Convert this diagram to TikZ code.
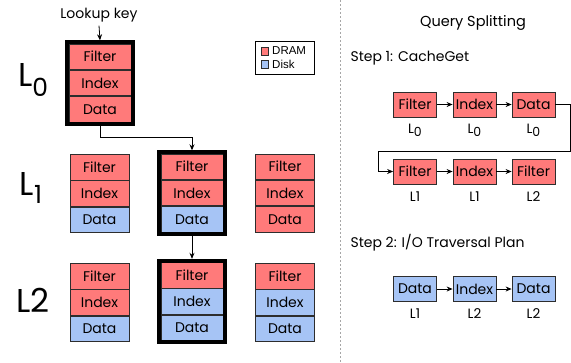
\documentclass[tikz,border=0pt]{standalone}
\usepackage{fontspec}
\setmainfont{Poppins}
\newfontfamily\legendfont{Liberation Sans}
\usetikzlibrary{fit,arrows.meta,positioning}

\definecolor{dram}{RGB}{255,122,122}
\definecolor{disk}{RGB}{166,196,245}
\definecolor{edge}{RGB}{45,45,45}

\newcommand{\fs}[1]{\fontsize{#1}{#1}\selectfont}

% one SSTable block: three stacked cells (filter / index / data)
% #1 name, #2 x centre, #3 y top, #4 width, #5..#7 fills
\newcommand{\cellstack}[7]{%
  \node[cell, minimum width=#4, fill=#5, anchor=north] (#1f) at (#2,#3) {Filter};
  \node[cell, minimum width=#4, fill=#6, anchor=north] (#1i) at (#1f.south) {Index};
  \node[cell, minimum width=#4, fill=#7, anchor=north] (#1d) at (#1i.south) {Data};
}

\begin{document}
\begin{tikzpicture}[x=1pt,y=-1pt,
  cell/.style={draw=edge, line width=0.8pt, minimum height=25.5pt, inner sep=0pt,
    font=\fs{14}},
  frame/.style={draw=black, line width=4pt, inner sep=1.2pt},
  qbox/.style={draw=edge, line width=0.8pt, minimum width=43pt, minimum height=25pt,
    inner sep=0pt, font=\fs{14}},
  qlab/.style={font=\fs{13.5}},
  lvl/.style={font=\fs{33}, anchor=center},
  link/.style={draw=black, line width=0.8pt, -{Stealth[length=6pt,width=5pt]}},
]
\useasboundingbox (0,0) rectangle (571,362);

% separator between the two halves
\draw[gray!70, line width=0.9pt, dash pattern=on 2pt off 2pt] (340,0) -- (340,362);

% ---- left half: LSM levels ----
\node[font=\fs{14}] (lookup) at (99,15) {Lookup key};

\cellstack{az}{100}{43.5}{62pt}{dram}{dram}{dram}
\node[frame, fit=(azf)(azd)] (azbox) {};

\cellstack{ba}{99.5}{154}{59pt}{dram}{dram}{disk}
\cellstack{bb}{192}{153.5}{62pt}{dram}{dram}{disk}
\node[frame, fit=(bbf)(bbd)] (bbbox) {};
\cellstack{bc}{285}{153.5}{59pt}{dram}{dram}{dram}

\cellstack{ca}{99.5}{263}{59pt}{dram}{dram}{disk}
\cellstack{cb}{192}{262}{62pt}{dram}{disk}{disk}
\node[frame, fit=(cbf)(cbd)] (cbbox) {};
\cellstack{cc}{285}{263}{59pt}{dram}{disk}{disk}

\node[lvl] (lz) at (33,80) {L\raisebox{-0.28em}{\fs{25}0}};
\node[lvl] (lo) at (31,188) {L\raisebox{-0.22em}{\fs{25}1}};
\node[lvl] (lt) at (33,300) {L2};

\draw[link] (lookup.south) -- (azbox.north);
\coordinate (bend) at (100,137);
\draw[link] (azbox.south) -- (bend) -| (bbbox.north);
\draw[link] (bbbox.south) -- (cbbox.north);

% legend
\node[draw=black, line width=0.8pt, minimum width=59pt, minimum height=33pt] (legend) at (284.5,57.5) {};
\node[draw=edge, fill=dram, minimum size=7.5pt, inner sep=0pt] (ldram) at (264.5,51) {};
\node[draw=edge, fill=disk, minimum size=7.5pt, inner sep=0pt] (ldisk) at (264.5,64) {};
\node[font=\legendfont\fs{11.5}, anchor=west, inner sep=0pt] (tdram) at (272,51) {DRAM};
\node[font=\legendfont\fs{11.5}, anchor=west, inner sep=0pt] (tdisk) at (272,64) {Disk};

% ---- right half: query splitting ----
\node[font=\fs{14.5}] (title) at (473,23) {Query Splitting};
\node[font=\fs{14}, anchor=west] (stepone) at (347,58) {Step 1: CacheGet};
\node[font=\fs{14}, anchor=west] (steptwo) at (347,243) {Step 2: I/O Traversal Plan};

\node[qbox, fill=dram] (pa) at (415,104.5) {Filter};
\node[qbox, fill=dram] (pb) at (474.5,104.5) {Index};
\node[qbox, fill=dram] (pc) at (533.5,104.5) {Data};
\node[qlab] (pal) at (415,130) {L\raisebox{-0.25em}{\fs{12.5}0}};
\node[qlab] (pbl) at (474.5,130) {L\raisebox{-0.25em}{\fs{12.5}0}};
\node[qlab] (pcl) at (533.5,130) {L\raisebox{-0.25em}{\fs{12.5}0}};

\node[qbox, fill=dram] (qa) at (415,171.5) {Filter};
\node[qbox, fill=dram] (qb) at (474.5,171.5) {Index};
\node[qbox, fill=dram] (qc) at (533.5,171.5) {Filter};
\node[qlab] (qal) at (415,197) {L1};
\node[qlab] (qbl) at (474.5,197) {L1};
\node[qlab] (qcl) at (533.5,197) {L2};

\node[qbox, fill=disk] (ra) at (415,289) {Data};
\node[qbox, fill=disk] (rb) at (474.5,289) {Index};
\node[qbox, fill=disk] (rc) at (533.5,289) {Data};
\node[qlab] (ral) at (415,314) {L1};
\node[qlab] (rbl) at (474.5,314) {L2};
\node[qlab] (rcl) at (533.5,314) {L2};

\draw[link] (pa) -- (pb);
\draw[link] (pb) -- (pc);
\coordinate (wrapR) at (570,151);
\coordinate (wrapL) at (378,151);
\draw[link] (pc.east) -| (wrapR) -- (wrapL) |- (qa.west);
\draw[link] (qa) -- (qb);
\draw[link] (qb) -- (qc);
\draw[link] (ra) -- (rb);
\draw[link] (rb) -- (rc);
\end{tikzpicture}
\end{document}
